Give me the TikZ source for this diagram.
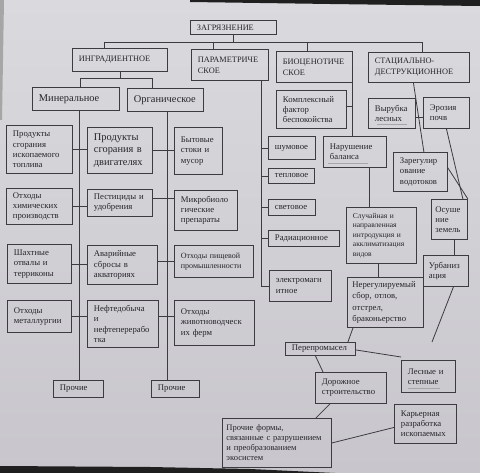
\documentclass[tikz,border=0pt]{standalone}
\usepackage{fontspec}
\setmainfont{Liberation Serif}
\usetikzlibrary{calc}
\definecolor{bgtop}{RGB}{218,218,222}
\definecolor{bgbot}{RGB}{200,198,204}
\definecolor{ln}{RGB}{60,60,64}
\definecolor{tx}{RGB}{38,38,42}
\tikzset{
  bx/.style={draw=ln, line width=0.9pt, text=tx, align=left, anchor=north west,
    inner xsep=6.5pt, inner ysep=1pt, font=\fontsize{8.7}{10.2}\selectfont},
  hd/.style={font=\fontsize{8.3}{11}\selectfont},
  big/.style={font=\fontsize{10.4}{12.5}\selectfont},
  sml/.style={font=\fontsize{7.5}{9.6}\selectfont},
  cn/.style={draw=ln, line width=0.8pt},
  faint/.style={draw=ln!45, line width=0.4pt}
}
\begin{document}
\begin{tikzpicture}[x=1pt,y=-1pt]
\shade[top color=bgtop,bottom color=bgbot] (0,0) rectangle (480,473);
\useasboundingbox (0,0) rectangle (480,473);
\fill[black!88] (190,0) -- (480,0) -- (480,6) -- (330,4) -- (190,2) -- cycle;
\fill[black!88] (0,466) -- (150,467) -- (250,469) -- (335,473) -- (0,473) -- cycle;
\fill[black!35] (0,0) -- (4,0) -- (2,120) -- (0,120) -- cycle;

% top level
\node[bx,hd, minimum width=86pt, minimum height=14pt, text width=73pt] (zag) at (190,20) {ЗАГРЯЗНЕНИЕ};
\node[bx,hd, minimum width=95pt, minimum height=23pt, text width=82pt] (ingr) at (72,48) {ИНГРАДИЕНТНОЕ};
\node[bx,hd, minimum width=77pt, minimum height=31pt, text width=64pt] (param) at (191,49) {ПАРАМЕТРИЧЕ\\СКОЕ};
\node[bx,hd, minimum width=76pt, minimum height=31pt, text width=63pt] (bio) at (276,51) {БИОЦЕНОТИЧЕ\\СКОЕ};
\node[bx,hd, minimum width=101pt, minimum height=30pt, text width=88pt] (stat) at (368,52) {СТАЦИАЛЬНО-\\ДЕСТРУКЦИОННОЕ};

% ingredient
\node[bx,big, minimum width=87pt, minimum height=23pt, text width=74pt] (min) at (32,87) {Минеральное};
\node[bx,big, minimum width=76pt, minimum height=23pt, text width=63pt] (org) at (127,88) {Органическое};

\node[bx, minimum width=66pt, minimum height=48pt, text width=53pt] (p1) at (6,125) {Продукты\\сгорания\\ископаемого\\топлива};
\node[bx,big, minimum width=65pt, minimum height=46pt, text width=52pt] (p2) at (87,127) {Продукты\\сгорания в\\двигателях};
\node[bx, minimum width=48pt, minimum height=47pt, text width=35pt] (p3) at (174,127) {Бытовые\\стоки и\\мусор};

\node[bx, minimum width=66pt, minimum height=36pt, text width=53pt] (c1) at (6,188) {Отходы\\химических\\производств};
\node[bx, minimum width=65pt, minimum height=27pt, text width=52pt] (c2) at (87,189) {Пестициды и\\удобрения};
\node[bx, minimum width=63pt, minimum height=40pt, text width=50pt] (c3) at (174,190) {Микробиоло\\гические\\препараты};

\node[bx, minimum width=64pt, minimum height=39pt, text width=51pt] (s1) at (7,244) {Шахтные\\отвалы и\\терриконы};
\node[bx, minimum width=70pt, minimum height=39pt, text width=57pt] (s2) at (87,245) {Аварийные\\сбросы в\\акваториях};
\node[bx,font=\fontsize{8}{10}\selectfont, minimum width=79pt, minimum height=32pt, text width=66pt] (s3) at (174,245) {Отходы пищевой\\промышленности};

\node[bx, minimum width=64pt, minimum height=32pt, text width=51pt] (m1) at (7,300) {Отходы\\металлургии};
\node[bx, minimum width=71pt, minimum height=47pt, text width=58pt] (m2) at (87,300) {Нефтедобыча\\и\\нефтеперерабо\\тка};
\node[bx, minimum width=80pt, minimum height=45pt, text width=67pt] (m3) at (174,300) {Отходы\\животноводческ\\их ферм};

\node[bx, minimum width=50pt, minimum height=17pt, text width=37pt] (pr1) at (53,380) {Прочие};
\node[bx, minimum width=48pt, minimum height=17pt, text width=35pt] (pr2) at (151,380) {Прочие};

% parametric
\node[bx, minimum width=47pt, minimum height=23pt, text width=34pt] (noise) at (268,136) {шумовое};
\node[bx, minimum width=46pt, minimum height=15pt, text width=33pt] (heat) at (268,168) {тепловое};
\node[bx, minimum width=47pt, minimum height=16pt, text width=34pt] (light) at (268,199) {световое};
\node[bx, minimum width=71pt, minimum height=16pt, text width=58pt] (rad) at (268,230) {Радиационное};
\node[bx, minimum width=62pt, minimum height=31pt, text width=49pt] (em) at (269,270) {электромагн\\итное};

% biocenotic
\node[bx, minimum width=70pt, minimum height=38pt, text width=57pt] (kf) at (276,90) {Комплексный\\фактор\\беспокойства};
\node[bx, minimum width=63pt, minimum height=31pt, text width=50pt] (nb) at (323,136) {Нарушение\\баланса};
\node[bx,sml, minimum width=70pt, minimum height=56pt, text width=57pt] (sl) at (346,207) {Случайная и\\направленная\\интродукция и\\акклиматизация\\видов};
\node[bx,inner xsep=5pt,font=\fontsize{8.7}{11.2}\selectfont, minimum width=76pt, minimum height=50pt, text width=66pt] (nr) at (347,277) {Нерегулируемый\\сбор, отлов,\\отстрел,\\браконьерство};

% stational
\node[bx, minimum width=47pt, minimum height=30pt, text width=34pt] (vy) at (368,98) {Вырубка\\лесных};
\node[bx, minimum width=46pt, minimum height=31pt, text width=33pt] (er) at (423,97) {Эрозия\\почв};
\node[bx, minimum width=54pt, minimum height=39pt, text width=41pt] (zr) at (393,152) {Зарегулир\\ование\\водотоков};
\node[bx, inner xsep=4pt, minimum width=36pt, minimum height=40pt, text width=28pt] (os) at (431,199) {Осуше\\ние\\земель};
\node[bx, inner xsep=5.5pt, minimum width=45pt, minimum height=31pt, text width=34pt] (ur) at (423,255) {Урбаниз\\ация};
\node[bx, minimum width=70pt, minimum height=13pt, text width=57pt] (pp) at (285,342) {Перепромысел};
\node[bx, minimum width=54pt, minimum height=32pt, text width=41pt] (ls) at (401,360) {Лесные и\\степные};
\node[bx, minimum width=71pt, minimum height=31pt, text width=58pt] (dr) at (315,372) {Дорожное\\строительство};
\node[bx, inner xsep=4pt, font=\fontsize{8.5}{10}\selectfont, minimum width=109pt, minimum height=49pt, text width=101pt] (pf) at (222,418) {Прочие формы,\\связанные с разрушением\\и преобразованием\\экосистем};
\node[bx, minimum width=62pt, minimum height=39pt, text width=49pt] (kr) at (394,404) {Карьерная\\разработка\\ископаемых};

% faint underlines
\draw[faint] (377,124) -- (407,124);
\draw[faint] (328,163) -- (368,163);
\draw[faint] (408,388) -- (440,388);

% top bus
\coordinate (busL) at (104,42);
\coordinate (busP) at (213,42);
\coordinate (busB) at (307,42);
\coordinate (busR) at (422,42);
\draw[cn] (busL) -- (busR);
\draw[cn] (zag.south) -- (zag.south |- busL);
\draw[cn] (busL) -- (busL |- ingr.north);
\draw[cn] (busP) -- (busP |- param.north);
\draw[cn] (busB) -- (busB |- bio.north);
\draw[cn] (busR) -- (busR |- stat.north);

% ingredient split
\coordinate (iL) at (80,78);
\coordinate (iR) at (152,78);
\draw[cn] (ingr.south) -- (ingr.south |- iL);
\draw[cn] (iL |- min.north) -- (iL) -- (iR) -- (iR |- org.north);

% trunks
\coordinate (tL) at (79,0);
\coordinate (tR) at (167,0);
\draw[cn] (tL |- min.south) -- (tL |- pr1.north);
\draw[cn] (tR |- org.south) -- (tR |- pr2.north);

% rows
\draw[cn] (p1.east) -- (p1.east -| p2.west);
\draw[cn] (p2.east) -- (p2.east -| p3.west);
\draw[cn] (c1.east) -- (c1.east -| c2.west);
\draw[cn] ([yshift=5pt]c2.east) -- ([yshift=5pt]c2.east -| c3.west);
\draw[cn] (s1.east) -- (s1.east -| s2.west);
\draw[cn] (s3.west -| s2.east) -- (s3.west);
\draw[cn] (m1.east) -- (m1.east -| m2.west);
\draw[cn] (m1.east -| m2.east) -- (m1.east -| m3.west);

% parametric trunk
\coordinate (tP) at (261,0);
\draw[cn] (tP |- param.south) -- (tP |- em.west) -- (em.west);
\draw[cn] (tP |- noise.west) -- (noise.west);
\draw[cn] (tP |- heat.west) -- (heat.west);
\draw[cn] (tP |- light.west) -- (light.west);
\draw[cn] (tP |- rad.west) -- (rad.west);

% biocenotic
\coordinate (tB) at (352.5,0);
\draw[cn] (tB |- bio.south) -- (tB |- nb.north);
\draw[cn] ([yshift=3pt]kf.east) -- ([yshift=3pt]kf.east -| tB);
\coordinate (tN) at (369,0);
\draw[cn] (tN |- nb.south) -- (tN |- sl.north);
\coordinate (tS) at (378,0);
\draw[cn] (tS |- sl.south) -- (tS |- nr.north);

% stational
\draw[cn] ([xshift=-5.5pt]stat.south) -- ([xshift=-24pt]zr.north east);
\draw[cn] ([yshift=-4pt]vy.east) -- ([yshift=-4pt]vy.east -| er.west);
\draw[cn] (er.south) -- ([xshift=-5pt]os.north east);
\draw[cn] ([yshift=4pt]zr.east) -- (os.north east);
\coordinate (tO) at (454,0);
\draw[cn] (tO |- os.south) -- (tO |- ur.north);
\coordinate (urEnd) at (432,342);
\draw[cn] ([xshift=7.5pt]ur.south) -- (urEnd);

% bottom cluster
\draw[cn] ([xshift=6pt]nr.south west) -- ([xshift=-8pt]pp.north east);
\draw[cn] ([yshift=-1pt]pp.east) -- ([yshift=3pt]ls.north west);
\draw[cn] ([xshift=-5pt]pp.south) -- ([xshift=8pt]dr.north west);
\draw[cn] ([xshift=15pt]dr.south west) -- ([xshift=-16pt]pf.north east);
\draw[cn] (pf.east) -- ([yshift=-3.5pt]kr.west);
\end{tikzpicture}
\end{document}
